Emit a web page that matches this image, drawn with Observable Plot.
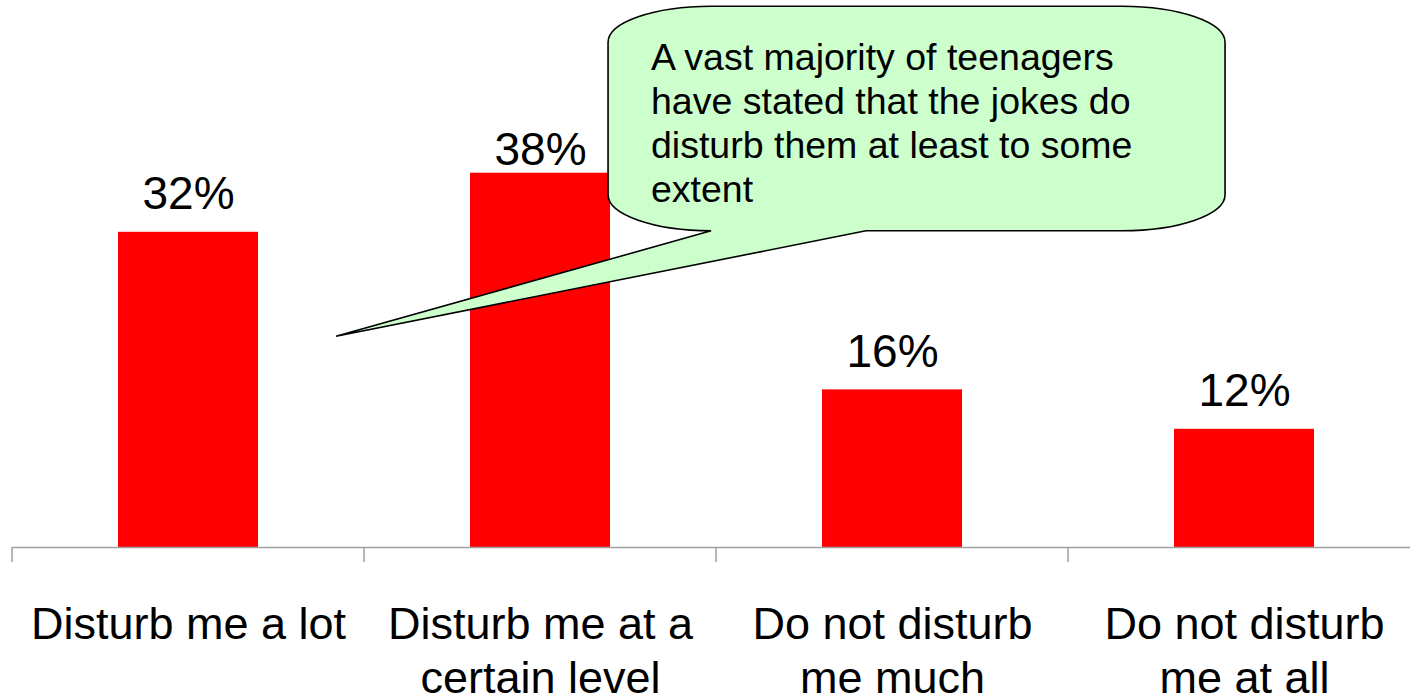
<!DOCTYPE html>
<html>
<head>
<meta charset="utf-8">
<script src="https://cdn.jsdelivr.net/npm/d3@7"></script>
<script src="https://cdn.jsdelivr.net/npm/@observablehq/plot@0.6"></script>
<style>
  html, body { margin: 0; padding: 0; background: #ffffff; }
  #chart svg { display: block; }
</style>
</head>
<body>
<div id="chart"></div>
<script>
// ---- data ----
const categories = [
  "Disturb me a lot",
  "Disturb me at a certain level",
  "Do not disturb me much",
  "Do not disturb me at all"
];
const tickLabels = [
  "Disturb me a lot",
  "Disturb me at a\ncertain level",
  "Do not disturb\nme much",
  "Do not disturb\nme at all"
];
const values = [32, 38, 16, 12];
const calloutLines = [
  "A vast majority of teenagers",
  "have stated that the jokes do",
  "disturb them at least to some",
  "extent"
];

const data = categories.map((c, i) => ({category: c, value: values[i], label: tickLabels[i]}));

const PAD_INNER = 0.602, PAD_OUTER = 0.301;
const FONT = "'Liberation Sans', Arial, Helvetica, sans-serif";

// callout anchors: x as fraction of the category axis span, y in data units (%)
const callout = {
  left: 0.4233, right: 0.8615, top: 54.9, bottom: 32.1,
  baseRight: 0.6065, tipX: 0.2301, tipY: 21.4,
  textX: 0.4538, textY: 48.4
};

function axisTicks(index, scales, values, dims) {
  const x = scales.x, y = scales.y;
  const step = x(categories[1]) - x(categories[0]);
  const g = d3.create("svg:g");
  const y0 = y(0);
  for (let i = 0; i <= categories.length; i++) {
    const bx = x(categories[0]) - step * PAD_OUTER + i * step;
    g.append("line")
      .attr("x1", bx).attr("x2", bx)
      .attr("y1", y0).attr("y2", y0 + 15)
      .attr("stroke", "#a0a0a0").attr("stroke-width", 1.5);
  }
  return g.node();
}

function drawCallout(index, scales, values, dims) {
  const x = scales.x, y = scales.y;
  const step = x(categories[1]) - x(categories[0]);
  const start = x(categories[0]) - step * PAD_OUTER;
  const span = step * categories.length;
  const X = f => start + f * span;
  const L = X(callout.left), R = X(callout.right);
  const T = y(callout.top), B = y(callout.bottom);
  const rx = 103, ry = 36;
  const br = X(callout.baseRight);
  const tx = X(callout.tipX), ty = y(callout.tipY);
  const d = `M${L + rx},${T} H${R - rx} A${rx},${ry} 0 0 1 ${R},${T + ry} V${B - ry} ` +
            `A${rx},${ry} 0 0 1 ${R - rx},${B} H${br} L${tx},${ty} L${L + rx},${B} ` +
            `A${rx},${ry} 0 0 1 ${L},${B - ry} V${T + ry} A${rx},${ry} 0 0 1 ${L + rx},${T} Z`;
  const g = d3.create("svg:g");
  g.append("path").attr("d", d)
    .attr("fill", "#ccffcc").attr("stroke", "#000").attr("stroke-width", 1.6)
    .attr("stroke-linejoin", "miter");
  const t = g.append("text")
    .attr("font-family", FONT).attr("font-size", 37.5).attr("fill", "#000")
    .attr("text-anchor", "start");
  const x0 = X(callout.textX), y0 = y(callout.textY);
  calloutLines.forEach((line, i) => {
    t.append("tspan").attr("x", x0).attr("y", y0 + i * 44).text(line);
  });
  return g.node();
}

const chart = Plot.plot({
  width: 1410,
  height: 694,
  marginLeft: 12,
  marginRight: 0,
  marginTop: 0,
  marginBottom: 0,
  style: {fontFamily: FONT, background: "#ffffff", color: "#000"},
  x: {domain: categories, range: [12, 1420], paddingInner: PAD_INNER, paddingOuter: PAD_OUTER, axis: null},
  y: {domain: [0, 40], range: [547, 153], axis: null},
  marks: [
    Plot.barY(data, {x: "category", y: "value", fill: "#ff0000"}),
    Plot.ruleY([0], {stroke: "#a0a0a0", strokeWidth: 1.5}),
    axisTicks,
    Plot.text(data, {
      x: "category", y: d => 0, text: "label",
      lineAnchor: "top", dy: 53, fontSize: 45, lineHeight: 1.2, fill: "#000"
    }),
    Plot.text(data.filter(d => d.value !== 38), {
      x: "category", y: "value", text: d => d.value + "%",
      lineAnchor: "bottom", dy: -23, fontSize: 46, fill: "#000"
    }),
    Plot.text(data.filter(d => d.value === 38), {
      x: "category", y: "value", text: d => d.value + "%",
      lineAnchor: "bottom", dy: -8, fontSize: 46, fill: "#000"
    }),
    drawCallout
  ]
});
document.getElementById("chart").appendChild(chart);
</script>
</body>
</html>
